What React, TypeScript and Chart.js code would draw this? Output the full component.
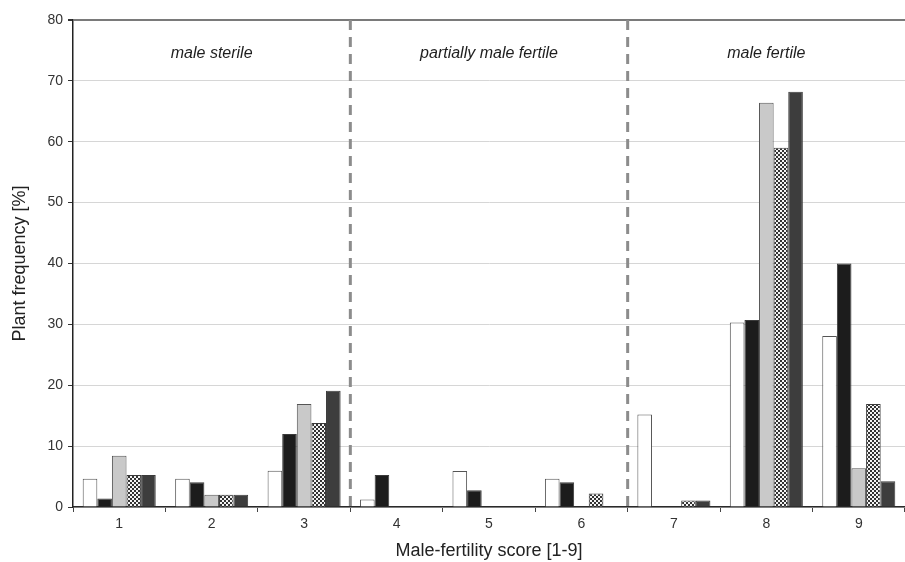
import React, { useEffect, useRef } from 'react';
import { Chart, registerables } from 'chart.js';

Chart.register(...registerables);

const categories = ['1', '2', '3', '4', '5', '6', '7', '8', '9'];
const seriesWhite = [4.65, 4.65, 5.95, 1.25, 5.9, 4.65, 15.2, 30.3, 28.1];
const seriesBlack = [1.4, 4.05, 12.0, 5.25, 2.75, 4.05, 0, 30.7, 40.0];
const seriesLightGray = [8.4, 2.0, 16.9, 0, 0, 0, 0, 66.4, 6.35];
const seriesChecker = [5.25, 2.0, 13.8, 0, 0, 2.2, 1.05, 59.0, 16.9];
const seriesDarkGray = [5.25, 2.0, 19.1, 0, 0, 0, 1.05, 68.2, 4.25];
const yMin = 0;
const yMax = 80;
const yStep = 10;
const regionLabels = ['male sterile', 'partially male fertile', 'male fertile'];
const regionCenterIndex = [1, 4, 7];
const regionLabelValue = 74.5;
const dividerAfterIndex = [2, 5];

const FONT = '"Liberation Sans", Arial, Helvetica, sans-serif';

function makeChecker(): CanvasPattern | string {
  const c = document.createElement('canvas');
  c.width = 4;
  c.height = 4;
  const g = c.getContext('2d');
  if (!g) return '#888';
  g.fillStyle = '#f4f4f4';
  g.fillRect(0, 0, 4, 4);
  g.fillStyle = '#333333';
  g.fillRect(0, 0, 2, 2);
  g.fillRect(2, 2, 2, 2);
  const p = g.createPattern(c, 'repeat');
  return p || '#888';
}

const regionPlugin = {
  id: 'regionPlugin',
  beforeDatasetsDraw(chart: any) {
    const { ctx, chartArea, scales } = chart;
    const x = scales.x;
    ctx.save();
    ctx.strokeStyle = '#8c8c8c';
    ctx.lineWidth = 3;
    ctx.setLineDash([10, 7]);
    dividerAfterIndex.forEach((i) => {
      const px = (x.getPixelForValue(i) + x.getPixelForValue(i + 1)) / 2;
      ctx.beginPath();
      ctx.moveTo(px, chartArea.top);
      ctx.lineTo(px, chartArea.bottom);
      ctx.stroke();
    });
    ctx.restore();
  },
  afterDatasetsDraw(chart: any) {
    const { ctx, scales } = chart;
    ctx.save();
    ctx.fillStyle = '#1e1e1e';
    ctx.font = 'italic 16px ' + FONT;
    ctx.textAlign = 'center';
    ctx.textBaseline = 'middle';
    regionLabels.forEach((t, k) => {
      const px = scales.x.getPixelForValue(regionCenterIndex[k]);
      const py = scales.y.getPixelForValue(regionLabelValue);
      ctx.fillText(t, px, py);
    });
    ctx.restore();
  },
};

export default function App() {
  const ref = useRef<HTMLCanvasElement | null>(null);

  useEffect(() => {
    document.body.style.margin = '0';
    const canvas = ref.current;
    if (!canvas) return;
    const checker = makeChecker();
    const border = '#3a3a3a';
    const chart = new Chart(canvas, {
      type: 'bar',
      data: {
        labels: categories,
        datasets: [
          { data: seriesWhite, backgroundColor: '#ffffff', borderColor: '#555555', borderWidth: 1 },
          { data: seriesBlack, backgroundColor: '#1c1c1c', borderColor: border, borderWidth: 1 },
          { data: seriesLightGray, backgroundColor: '#c9c9c9', borderColor: '#555555', borderWidth: 1 },
          { data: seriesChecker, backgroundColor: checker as any, borderColor: border, borderWidth: 1 },
          { data: seriesDarkGray, backgroundColor: '#3d3d3d', borderColor: border, borderWidth: 1 },
        ],
      },
      options: {
        responsive: false,
        animation: false,
        devicePixelRatio: 1,
        layout: { padding: { top: 20, right: 0, left: 0, bottom: 0 } },
        datasets: { bar: { categoryPercentage: 0.79, barPercentage: 1.0 } },
        plugins: {
          legend: { display: false },
          tooltip: { enabled: false },
        },
        scales: {
          x: {
            offset: true,
            grid: {
              offset: true,
              drawOnChartArea: false,
              drawTicks: true,
              tickLength: 5,
              tickColor: '#444',
            },
            border: { color: '#2a2a2a', width: 1.5 },
            ticks: {
              color: '#333',
              font: { family: FONT, size: 14 },
              padding: 4,
            },
            title: {
              display: true,
              text: 'Male-fertility score [1-9]',
              color: '#222',
              font: { family: FONT, size: 18 },
              padding: { top: 0, bottom: 0 },
            },
            afterFit(scale: any) {
              scale.height = 55;
            },
          },
          y: {
            min: yMin,
            max: yMax,
            ticks: {
              stepSize: yStep,
              color: '#333',
              font: { family: FONT, size: 14 },
              padding: 5,
            },
            grid: {
              color: (c: any) => (c.tick && c.tick.value === yMax ? '#7a7a7a' : '#d6d6d6'),
              lineWidth: (c: any) => (c.tick && c.tick.value === yMax ? 2 : 1),
              tickColor: '#333',
              tickLength: 5,
            },
            border: { color: '#222', width: 1.5 },
            title: {
              display: true,
              text: 'Plant frequency [%]',
              color: '#222',
              font: { family: FONT, size: 18 },
              padding: { top: 9, bottom: 0 },
            },
            afterFit(scale: any) {
              scale.width = 73;
            },
          },
        },
      },
      plugins: [regionPlugin],
    });
    return () => chart.destroy();
  }, []);

  return (
    <div style={{ width: 905, height: 562 }}>
      <canvas ref={ref} width={905} height={562} style={{ display: 'block', width: 905, height: 562 }} />
    </div>
  );
}
